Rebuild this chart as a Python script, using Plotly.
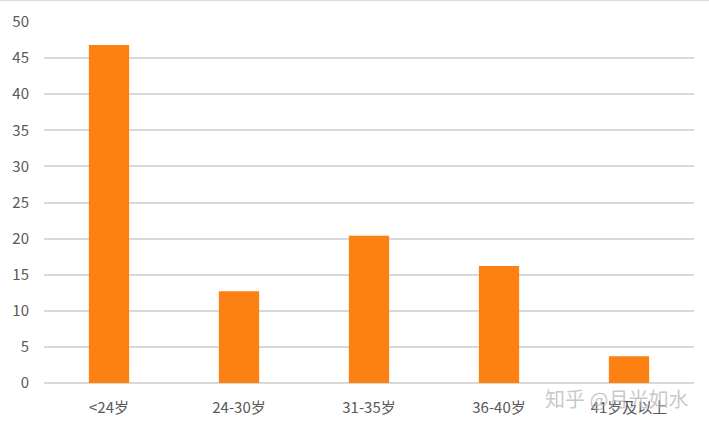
import plotly.graph_objects as go

# age groups and share (%)
categories = ['<24岁', '24-30岁', '31-35岁', '36-40岁', '41岁及以上']
values = [46.8, 12.7, 20.4, 16.2, 3.7]
y_ticks = [0, 5, 10, 15, 20, 25, 30, 35, 40, 45, 50]

fig = go.Figure()

fig.add_trace(go.Bar(
    x=categories, y=values,
    marker=dict(color='#FD8012', line=dict(width=0)),
    hoverinfo='x+y'
))

# thin border at the very top of the picture
fig.add_shape(type='line', xref='paper', yref='paper',
              x0=-0.07, x1=1.03, y0=1.059, y1=1.059,
              line=dict(color='#D9D9D9', width=1))

# watermark
fig.add_annotation(text='知乎 @月光如水', xref='paper', yref='paper',
                   x=0.994, y=-0.042, xanchor='right', yanchor='middle',
                   showarrow=False,
                   font=dict(family='Noto Sans CJK SC', size=20, color='rgba(175,175,175,0.7)'))

fig.update_layout(
    width=709, height=426,
    plot_bgcolor='white', paper_bgcolor='white',
    showlegend=False,
    bargap=0.69,
    margin=dict(l=44, r=15, t=22, b=43),
    font=dict(family='Noto Sans CJK SC, DejaVu Sans', size=15, color='#595959'),
    xaxis=dict(showgrid=False, showline=False, ticks='', ticklabelstandoff=14,
               automargin=False, tickfont=dict(size=15)),
    yaxis=dict(range=[0, 50], tickvals=y_ticks, showgrid=True,
               gridcolor='#D9D9D9', gridwidth=1.5, zeroline=True,
               zerolinecolor='#D9D9D9', zerolinewidth=1.5, automargin=False,
               ticks='', ticklabelstandoff=14, tickfont=dict(size=15))
)

fig.write_html("out.html", config={'displayModeBar': False},
               post_script="document.body.style.margin='0';")
